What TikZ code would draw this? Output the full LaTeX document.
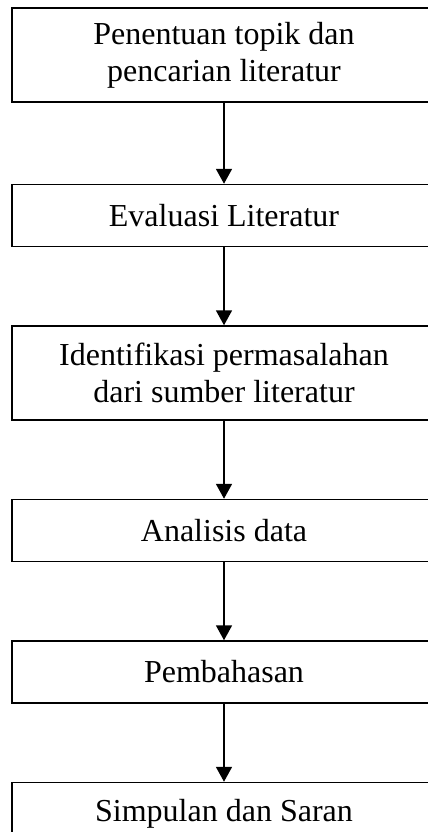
\documentclass[tikz,border=0pt]{standalone}
\usepackage{fontspec}
\setmainfont{Liberation Serif}
\usepackage{tikz}
\usetikzlibrary{arrows.meta,positioning}

\begin{document}
\begin{tikzpicture}[
    font=\fontsize{32}{37}\selectfont,
    node distance=78pt,
    stepbox/.style={rectangle, draw=black, line width=1.5pt, minimum width=424pt, minimum height=62pt, align=center, inner sep=0pt},
    tallbox/.style={stepbox, minimum height=94pt},
    arrow/.style={-{Triangle[length=15pt,width=16pt]}, line width=1.8pt, draw=black}
  ]
    \clip (0,0) rectangle (428pt,-832pt);
    \node[tallbox] (topik) at (224pt,-55pt) {Penentuan topik dan\\pencarian literatur};
    \node[stepbox, below=81pt of topik] (evaluasi) {Evaluasi Literatur};
    \node[tallbox, below=of evaluasi] (identifikasi) {Identifikasi permasalahan\\dari sumber literatur};
    \node[stepbox, below=of identifikasi] (analisis) {Analisis data};
    \node[stepbox, below=of analisis] (bahas) {Pembahasan};
    \node[stepbox, below=of bahas] (simpulan) {Simpulan dan Saran};
    \foreach \a/\b in {topik/evaluasi,evaluasi/identifikasi,identifikasi/analisis,analisis/bahas,bahas/simpulan} {
      \draw[arrow] (\a) -- (\b);
    }
  \end{tikzpicture}
\end{document}
